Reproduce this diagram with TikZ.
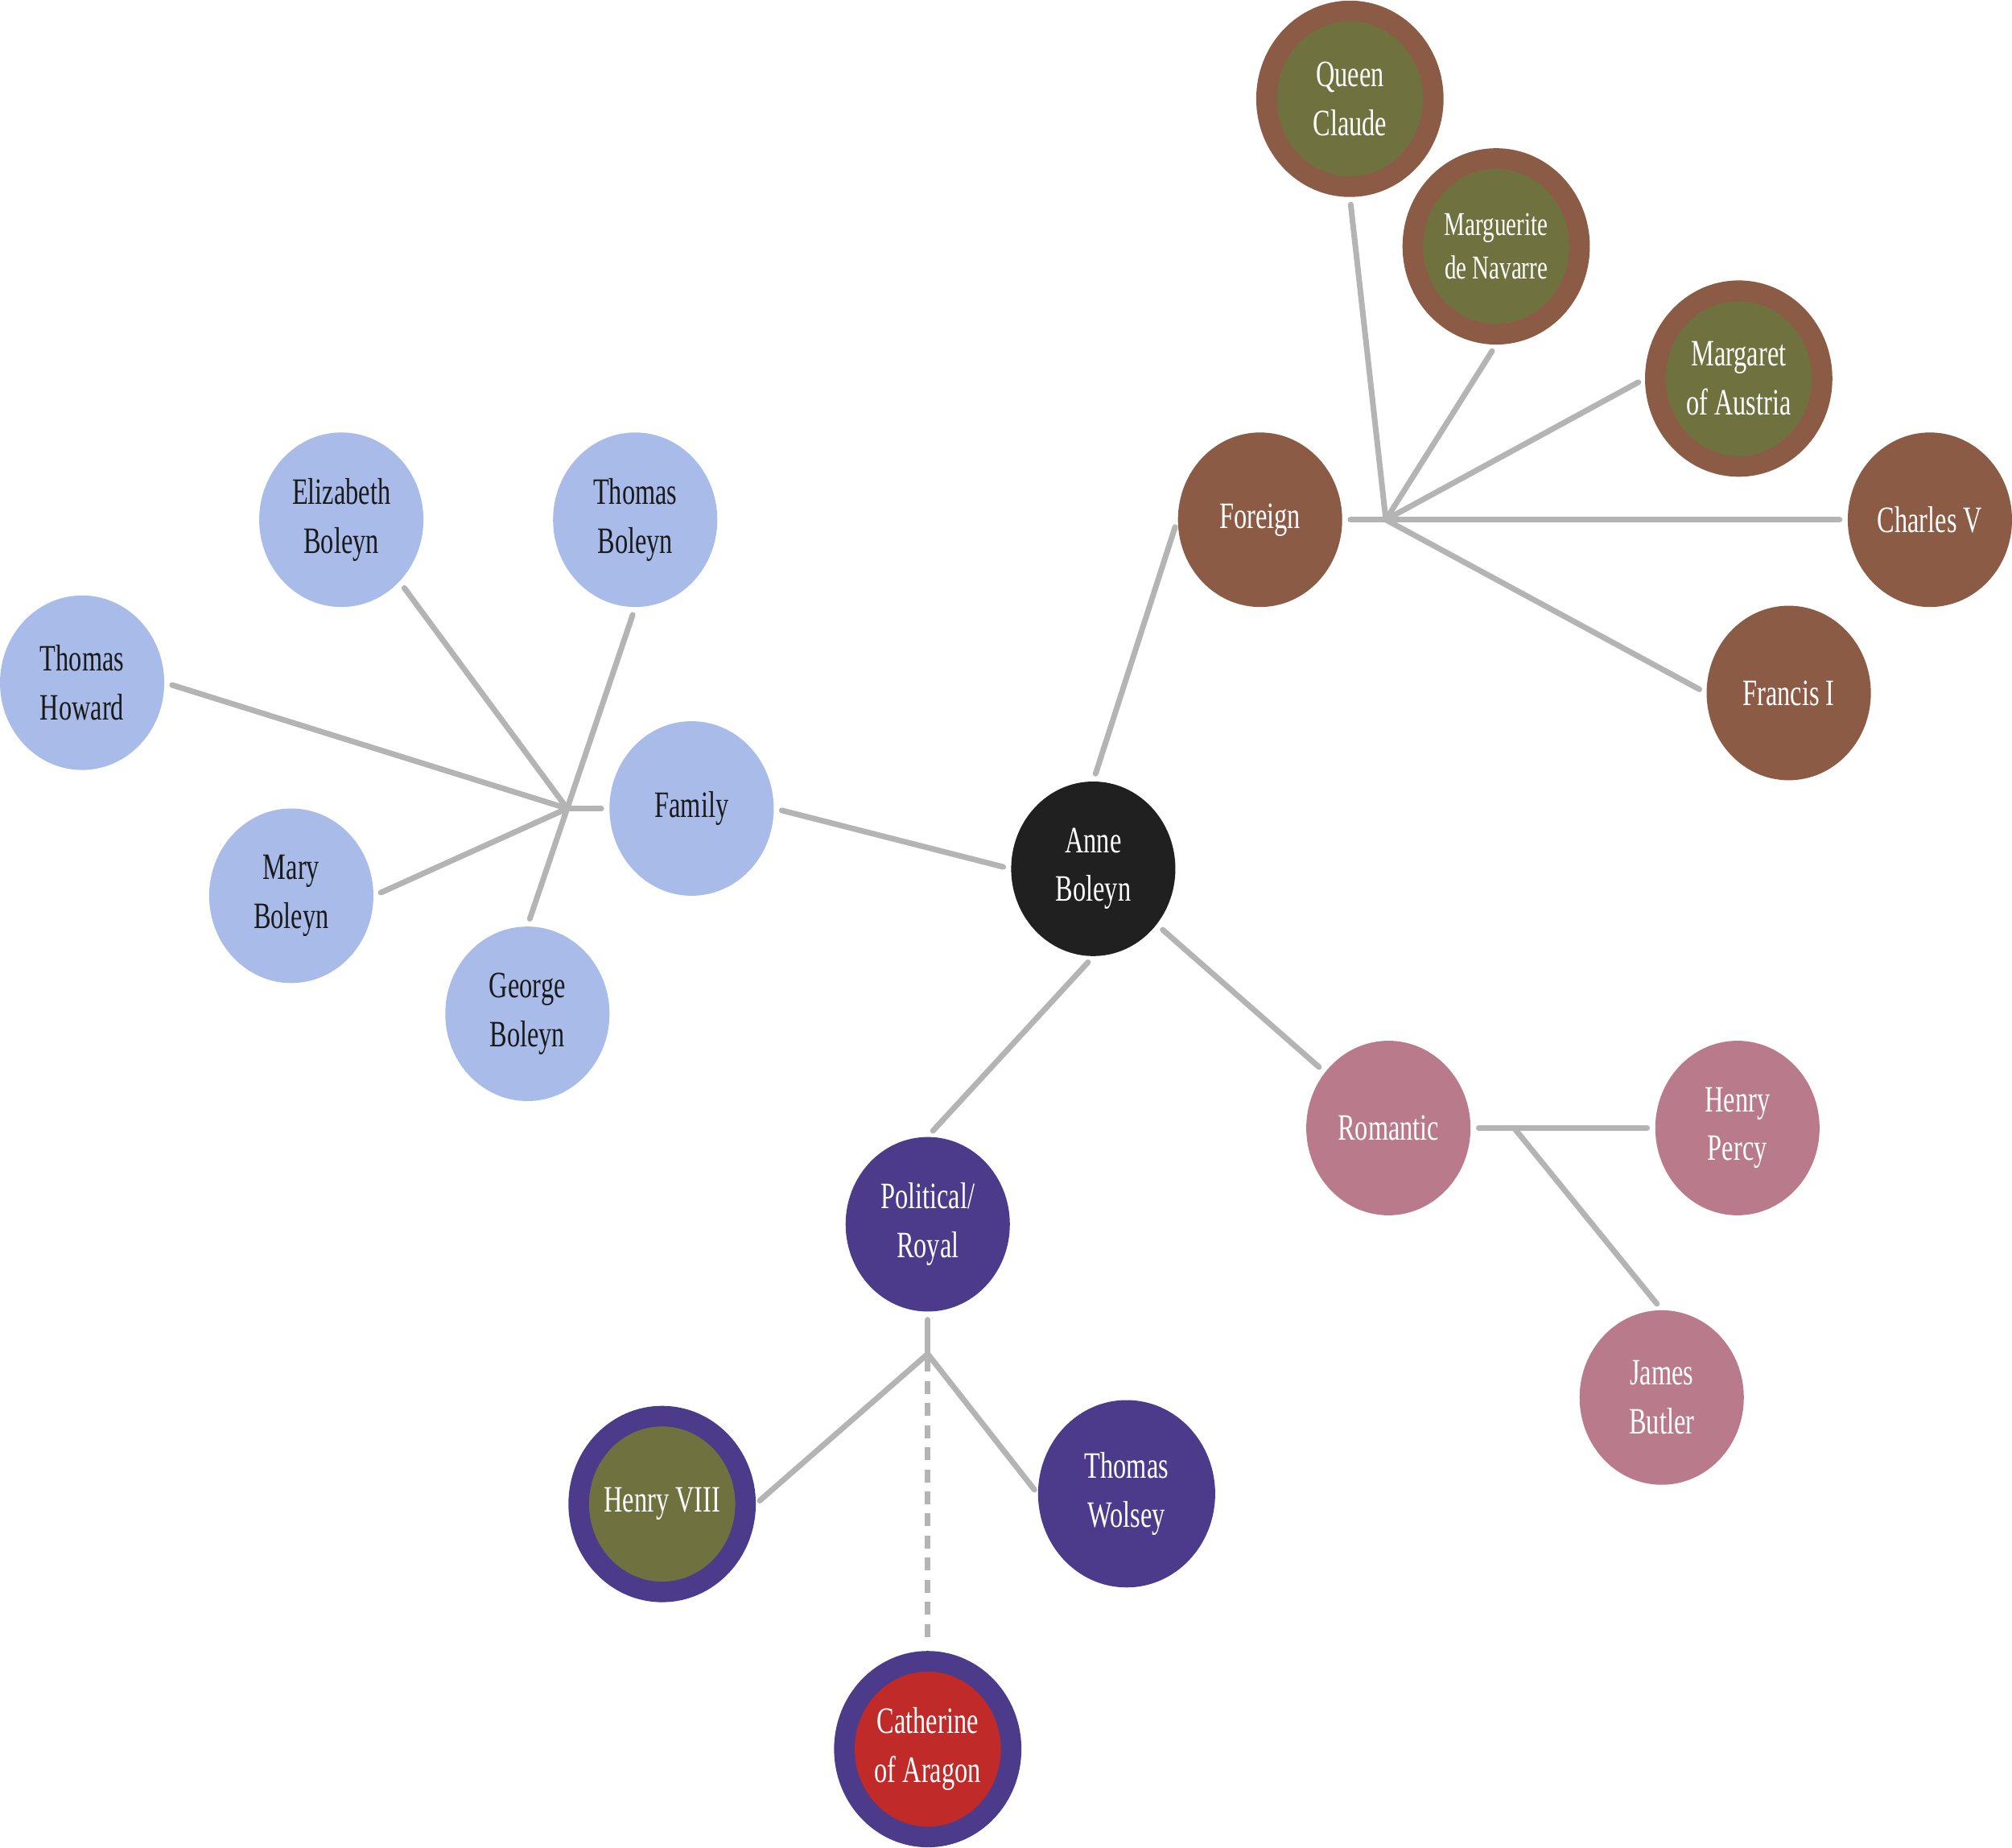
\documentclass[tikz,border=0pt]{standalone}
\usepackage{fontspec}
\setmainfont{Liberation Serif}[FakeStretch=0.7]
\usetikzlibrary{shapes.geometric}
\definecolor{lblue}{HTML}{A8BBE9}
\definecolor{brownc}{HTML}{8B5B45}
\definecolor{olive}{HTML}{6F723F}
\definecolor{pinkc}{HTML}{B97B8B}
\definecolor{purpc}{HTML}{4B3B8A}
\definecolor{redc}{HTML}{C02A28}
\definecolor{darkc}{HTML}{202020}
\definecolor{edgec}{HTML}{B4B4B4}
\definecolor{textdark}{HTML}{1A1A1A}
\newcommand{\nodefont}{\fontsize{14.5}{19}\selectfont}
\newcommand{\smallnodefont}{\fontsize{13}{17}\selectfont}
\begin{document}
\begin{tikzpicture}[x=0.5pt,y=-0.5pt,
  bub/.style={ellipse, minimum width=64pt, minimum height=68pt, inner sep=0pt, align=center, font=\nodefont},
  light/.style={bub, fill=lblue, text=textdark},
  darkn/.style={bub, fill=darkc, text=white},
  brownn/.style={bub, fill=brownc, text=white},
  pinkn/.style={bub, fill=pinkc, text=white},
  purpn/.style={bub, fill=purpc, text=white},
  ringn/.style 2 args={bub, minimum width=65pt, minimum height=68.5pt, draw=#1, line width=8pt, fill=#2, text=white},
  edge/.style={draw=edgec, line width=2.2pt, line cap=round},
  dashedge/.style={draw=edgec, line width=2.2pt, line cap=butt, dash pattern=on 5pt off 3.6pt},
]
\useasboundingbox (0,0) rectangle (1568,1440);

% nodes
\node[darkn] (anne) at (852,677) {Anne\\Boleyn};
\node[light] (family) at (539,630) {Family};
\node[light] (eliz) at (266,405) {Elizabeth\\Boleyn};
\node[light] (tbol) at (495,405) {Thomas\\Boleyn};
\node[light] (thow) at (64,532) {Thomas\\Howard};
\node[light] (mary) at (227,698) {Mary\\Boleyn};
\node[light] (george) at (411,790) {George\\Boleyn};
\node[brownn] (foreign) at (982,405) {Foreign};
\node[ringn={brownc}{olive}] (claude) at (1052,77) {Queen\\Claude};
\node[ringn={brownc}{olive}, font=\smallnodefont] (marg) at (1166,192) {Marguerite\\de Navarre};
\node[ringn={brownc}{olive}] (margaret) at (1355,295) {Margaret\\of Austria};
\node[brownn] (charles) at (1504,405) {Charles V};
\node[brownn] (francis) at (1394,540) {Francis I};
\node[pinkn] (romantic) at (1082,879) {Romantic};
\node[pinkn] (percy) at (1354,879) {Henry\\Percy};
\node[pinkn] (butler) at (1295,1089) {James\\Butler};
\node[purpn] (political) at (723,954) {Political/\\Royal};
\node[ringn={purpc}{olive}] (henry) at (516,1172) {Henry VIII};
\node[purpn, minimum width=69pt, minimum height=73pt] (wolsey) at (878,1164) {Thomas\\Wolsey};
\node[ringn={purpc}{redc}] (cath) at (723,1363) {Catherine\\of Aragon};

% hubs
\coordinate (famhub) at (442,630);
\coordinate (forhub) at (1080,405);
\coordinate (romhub) at (1180,879);
\coordinate (polhub) at (723,1055);

% main edges
\draw[edge, shorten <=3pt, shorten >=3pt] (family.east) -- (anne.west);
\draw[edge, shorten <=3pt, shorten >=3pt] (anne.north) -- (foreign.west);
\draw[edge, shorten <=3pt, shorten >=3pt] (anne.south) -- (political.north);
\draw[edge, shorten <=3pt, shorten >=3pt] (anne) -- (romantic);

% family hub
\draw[edge, shorten <=3pt] (family.west) -- (famhub);
\draw[edge, shorten >=3pt] (famhub) -- (thow.east);
\draw[edge, shorten >=3pt] (famhub) -- (eliz.south east);
\draw[edge, shorten >=3pt] (famhub) -- (tbol.south);
\draw[edge, shorten >=3pt] (famhub) -- (mary.east);
\draw[edge, shorten >=3pt] (famhub) -- (george.north);

% foreign hub
\draw[edge, shorten <=3pt] (foreign.east) -- (forhub);
\draw[edge, shorten >=3pt] (forhub) -- (claude.south);
\draw[edge, shorten >=3pt] (forhub) -- (marg.south);
\draw[edge, shorten >=3pt] (forhub) -- (margaret.west);
\draw[edge, shorten >=3pt] (forhub) -- (charles.west);
\draw[edge, shorten >=3pt] (forhub) -- (francis.west);

% romantic hub
\draw[edge, shorten <=3pt] (romantic.east) -- (romhub);
\draw[edge, shorten >=3pt] (romhub) -- (percy.west);
\draw[edge, shorten >=3pt] (romhub) -- (butler.north);

% political hub
\draw[edge, shorten <=3pt] (political.south) -- (polhub);
\draw[edge, shorten >=2pt] (polhub) -- (henry.east);
\draw[edge, shorten >=2pt] (polhub) -- (wolsey.west);
\draw[dashedge, shorten <=2pt, shorten >=3pt] (polhub) -- (cath.north);
\end{tikzpicture}
\end{document}
